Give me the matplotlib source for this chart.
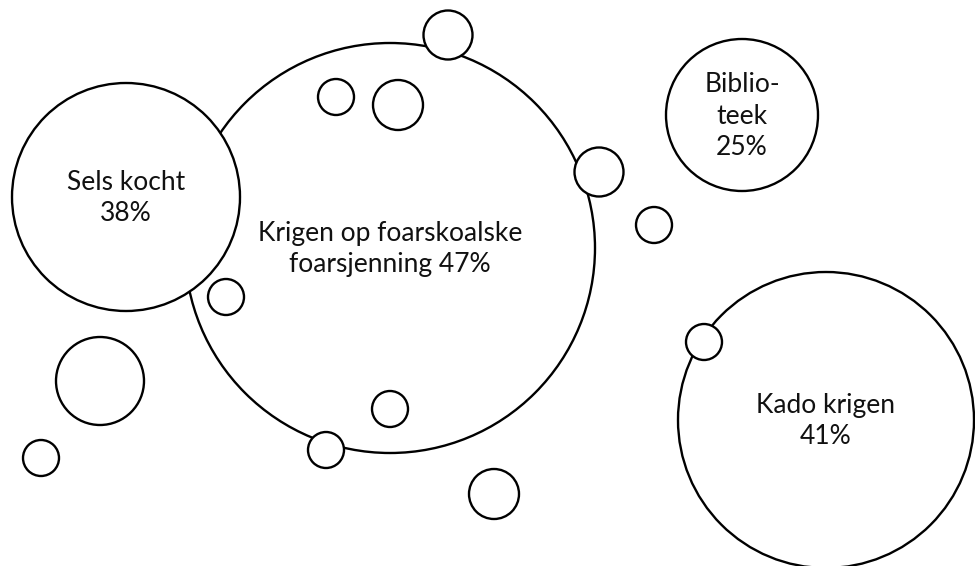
import matplotlib
matplotlib.use("Agg")
import matplotlib.pyplot as plt
from matplotlib.patches import Circle

plt.rcParams['font.family'] = ['Lato', 'DejaVu Sans']

# labelled bubbles
labels = ["Krigen op foarskoalske\nfoarsjenning", "Sels kocht", "Biblio-\nteek", "Kado krigen"]
values = [47, 38, 25, 41]
label_x = [390, 126, 742, 826]
label_y = [248, 197, 115, 420]
label_r = [205, 114, 76, 148]

# small decorative bubbles
dot_x = [448, 336, 398, 599, 654, 226, 100, 41, 326, 390, 494, 704]
dot_y = [35, 97, 105, 172, 225, 297, 381, 458, 450, 409, 494, 342]
dot_r = [24.5, 18, 25, 24.5, 18, 18, 44, 18, 18, 18, 25, 18]

fig = plt.figure(figsize=(9.75, 5.66), dpi=100)
ax = fig.add_axes([0, 0, 1, 1])
ax.set_xlim(0, 975)
ax.set_ylim(566, 0)
ax.set_aspect('equal')
ax.axis('off')

lw = 1.7
# big circle first, then the others on top with white fill
for i in range(len(labels)):
    c = Circle((label_x[i], label_y[i]), label_r[i], facecolor='white',
               edgecolor='black', linewidth=lw, zorder=2 + i)
    ax.add_patch(c)
    if i == 0:
        txt = labels[i] + " %d%%" % values[i]
    else:
        txt = labels[i] + "\n%d%%" % values[i]
    ax.text(label_x[i], label_y[i] + 1, txt, ha='center', va='center', fontsize=19,
            linespacing=1.33, color='#111111', zorder=10)

for x, y, r in zip(dot_x, dot_y, dot_r):
    ax.add_patch(Circle((x, y), r, facecolor='white', edgecolor='black',
                        linewidth=lw, zorder=8))

fig.savefig("out.png", dpi=100)
